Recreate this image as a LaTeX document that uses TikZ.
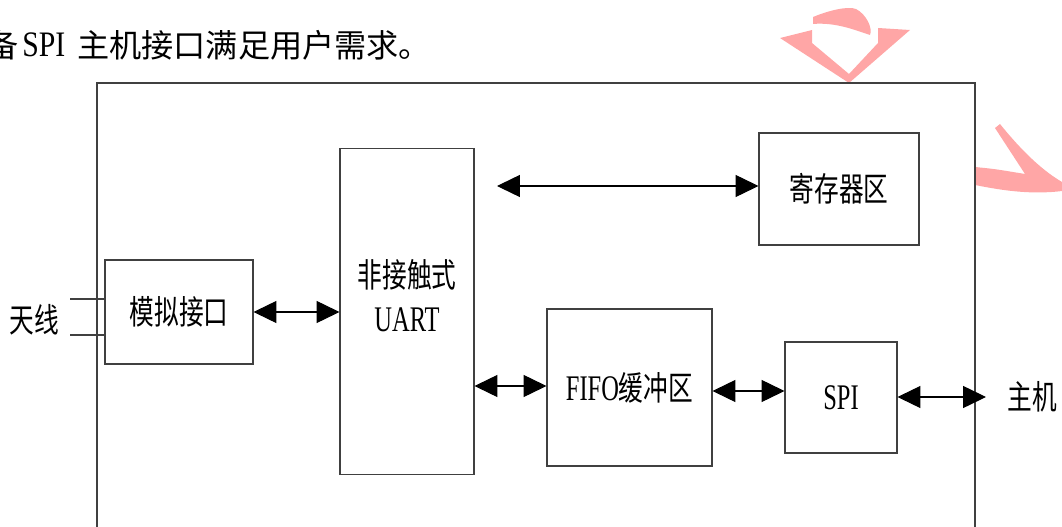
\documentclass[tikz,border=0pt]{standalone}
\usepackage{fontspec}
\setmainfont{Liberation Serif}
\newfontfamily\cjk{Noto Sans CJK SC}
\newfontfamily\cjknarrow[FakeStretch=0.74]{Noto Sans CJK SC}
\newfontfamily\latin[FakeStretch=0.68]{Liberation Serif}
\newfontfamily\latintop[FakeStretch=0.83]{Liberation Serif}
\usetikzlibrary{arrows.meta}

\tikzset{
  blk/.style={draw=black!75, line width=0.6pt, inner sep=0pt},
  lbl/.style={font=\cjknarrow\fontsize{19}{24}\selectfont, inner sep=0pt},
  latinlbl/.style={font=\latin\fontsize{20.5}{24}\selectfont},
  toptext/.style={font=\cjk\fontsize{18.3}{20}\selectfont, inner sep=0pt},
  biarrow/.style={line width=0.6pt,
    {Triangle[length=13pt,width=12.5pt]}-{Triangle[length=13pt,width=12.5pt]}},
  wm/.style={fill=red!35!white, draw=none}
}

\begin{document}
\begin{tikzpicture}[x=0.02cm, y=-0.02cm]
    \useasboundingbox (0,0) rectangle (1062,527);

    % 水印
    \fill[wm] (780,38) -- (812,30) -- (812,43) -- (849,74) -- (878,43) -- (878,28) -- (910,30) -- (849,83) -- cycle;
    \fill[wm] (813,17) .. controls (830,10) and (848,6) .. (856,9) .. controls (866,14) and (873,28) .. (870,35) .. controls (855,30) and (835,22) .. (813,24) -- cycle;
    \fill[wm] (995,128) -- (1000,124) .. controls (1025,155) and (1045,172) .. (1062,182) -- (1062,191) .. controls (1030,195) and (1000,190) .. (975,185) -- (975,167) .. controls (995,169) .. (1025,174) -- cycle;

    \node[toptext, anchor=west] (intro0) at (-14,45) {备};
    \node[font=\latintop\fontsize{20.4}{24}\selectfont, inner sep=0pt, anchor=west] (introspi) at (22,45) {SPI};
    \node[toptext, anchor=west] (intro) at (77,45) {主机接口满足用户需求。};

    % 外框
    \draw[black!75, line width=0.6pt] (97,540) -- (97,83) -- (975,83) -- (975,540);

    \node[blk, lbl, minimum width=2.96cm, minimum height=2.08cm] (mn) at (179,312) {模拟接口};
    \node[blk, minimum width=2.68cm, minimum height=6.54cm] (uart) at (407,311.5) {};
    \node[lbl, align=center] (uartlbl) at (407,275) {非接触式};
    \node[latinlbl, inner sep=0pt] (uarttxt) at (407,320) {UART};
    \node[blk, lbl, minimum width=3.2cm, minimum height=2.24cm] (reg) at (839,189) {寄存器区};
    \node[blk, lbl, minimum width=3.3cm, minimum height=3.14cm] (fifo) at (629.5,387.5) {{\latin\fontsize{20.5}{24}\selectfont FIFO}缓冲区};
    \node[blk, latinlbl, inner sep=0pt, minimum width=2.24cm, minimum height=2.22cm] (spi) at (841,397.5) {SPI};

    \node[lbl] (ant) at (34,320) {天线};
    \node[lbl] (host) at (1032,397) {主机};
    \coordinate (regend) at (497,186);
    \coordinate (hostend) at (986,397);

    % 连线
    \draw[black!75, line width=0.6pt] (70,299) -- (mn.west |- 0,299);
    \draw[black!75, line width=0.6pt] (70,335) -- (mn.west |- 0,335);
    \draw[biarrow] (mn.east) -- (uart.west |- mn.east);
    \draw[biarrow] (regend) -- (reg.west |- regend);
    \draw[biarrow] (uart.east |- 0,386) -- (fifo.west |- 0,386);
    \draw[biarrow] (fifo.east |- 0,391) -- (spi.west |- 0,391);
    \draw[biarrow] (spi.east |- hostend) -- (hostend);
\end{tikzpicture}
\end{document}
